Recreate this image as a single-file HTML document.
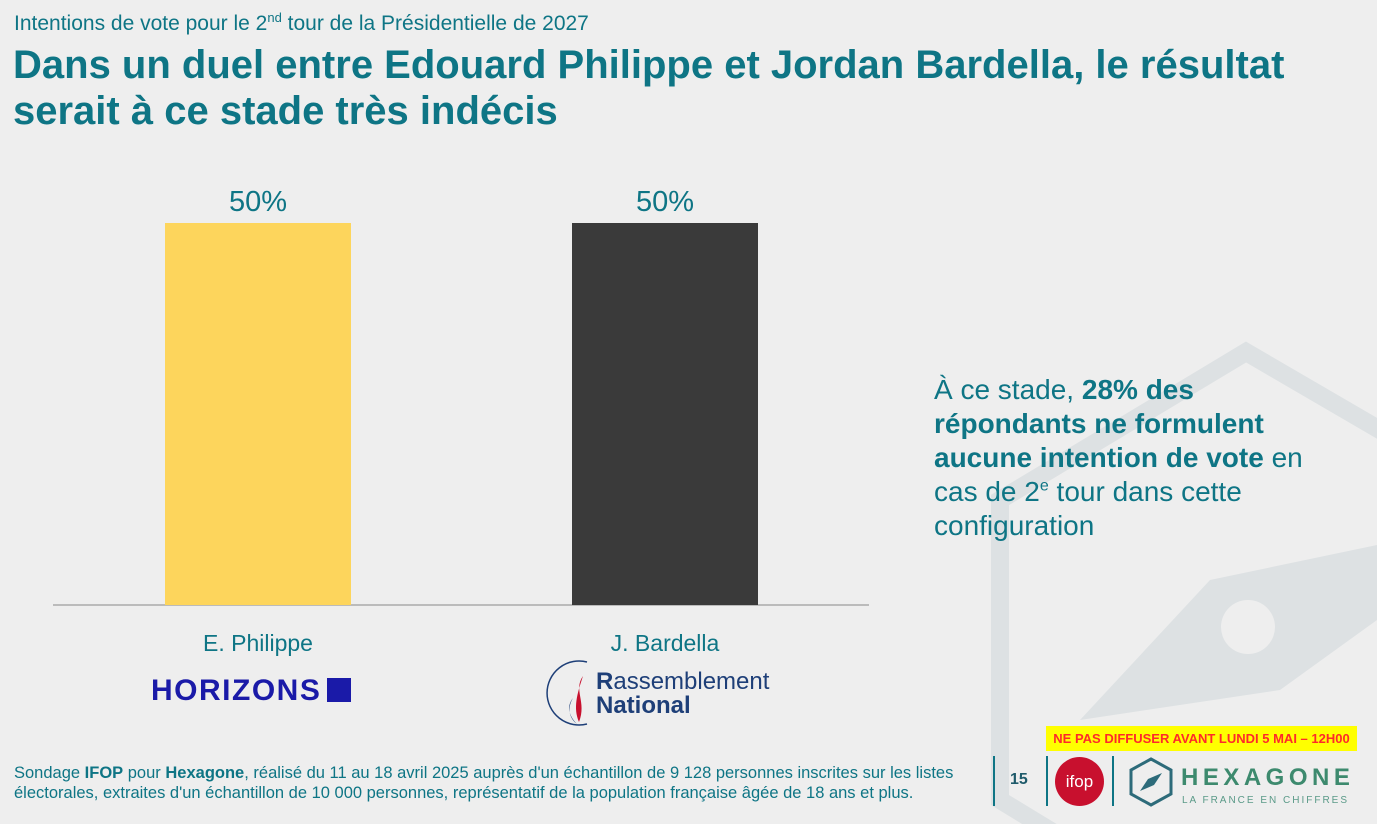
<!DOCTYPE html>
<html lang="fr"><head><meta charset="utf-8">
<style>
html,body{margin:0;width:1377px;height:824px;overflow:hidden}
body{background:#eeeeee;font-family:"Liberation Sans",sans-serif;position:relative;color:#0e7585}
.abs{position:absolute}
sup{line-height:0}
</style></head><body>
<svg class="abs" style="left:0;top:0" width="1377" height="824" viewBox="0 0 1377 824">
<polygon points="1246,352 1500,500 1500,800 1246,950 1000,800 1000,500" fill="none" stroke="#dde1e3" stroke-width="18"/>
<polygon points="1080,720 1210,580 1377,545 1377,620 1280,690 1080,720" fill="#dde1e3"/>
<circle cx="1248" cy="627" r="27" fill="#eeeeee"/>
</svg>
<div class="abs" style="left:14px;top:12px;font-size:21px;">Intentions de vote pour le 2<sup style="font-size:13px">nd</sup> tour de la Présidentielle de 2027</div>
<div class="abs" style="left:13px;top:42px;font-size:40px;font-weight:bold;line-height:46px;width:1300px">Dans un duel entre Edouard Philippe et Jordan Bardella, le résultat serait à ce stade très indécis</div>
<svg id="chart" class="abs" style="left:0;top:0" width="900" height="730"></svg>
<div class="abs" style="left:151px;top:674px;font-size:30px;font-weight:bold;color:#1a1aa8;letter-spacing:1.5px;white-space:nowrap">HORIZONS<span style="display:inline-block;width:24px;height:24px;background:#1a1aa8;margin-left:6px;vertical-align:-2px"></span></div>
<div class="abs" style="left:543px;top:658px;width:260px;height:70px">
<svg width="60" height="70" style="position:absolute;left:0;top:0"><path d="M44,4 A32,32 0 1 0 44,66" fill="none" stroke="#1e3f78" stroke-width="1.5"/><path d="M40,18 C30,32 44,44 36,64 C30,50 34,36 40,18Z" fill="#c8102e"/><path d="M30,40 C22,50 28,60 34,66 C26,60 24,50 30,40Z" fill="#1e3f78"/></svg>
<div style="position:absolute;left:53px;top:12px;font-size:24px;color:#1e3f78;line-height:24px;white-space:nowrap"><b>R</b>assemblement<br><b>National</b></div></div>
<div class="abs" style="left:934px;top:373px;width:420px;font-size:28px;line-height:34px">À ce stade, <b>28% des répondants ne formulent aucune intention de vote</b> en cas de 2<sup style="font-size:16px">e</sup> tour dans cette configuration</div>
<div class="abs" style="left:1046px;top:726px;width:311px;height:25px;background:#ffff00;color:#ff2a2a;font-size:13px;font-weight:bold;text-align:center;line-height:25px">NE PAS DIFFUSER AVANT LUNDI 5 MAI – 12H00</div>
<div class="abs" style="left:14px;top:763px;width:975px;font-size:16.5px;line-height:20px">Sondage <b>IFOP</b> pour <b>Hexagone</b>, réalisé du 11 au 18 avril 2025 auprès d'un échantillon de 9 128 personnes inscrites sur les listes électorales, extraites d'un échantillon de 10 000 personnes, représentatif de la population française âgée de 18 ans et plus.</div>
<div class="abs" style="left:993px;top:756px;width:2px;height:50px;background:#0e7585"></div>
<div class="abs" style="left:1046px;top:756px;width:2px;height:50px;background:#0e7585"></div>
<div class="abs" style="left:1112px;top:756px;width:2px;height:50px;background:#0e7585"></div>
<div class="abs" style="left:1010px;top:771px;font-size:16px;font-weight:bold;color:#1e5a6a">15</div>
<div class="abs" style="left:1055px;top:757px;width:49px;height:49px;border-radius:50%;background:#c8102e;color:#fff;font-size:17px;text-align:center;line-height:49px">ifop</div>
<svg class="abs" style="left:1128px;top:757px" width="46" height="50"><polygon points="23,2 43,13 43,37 23,48 3,37 3,13" fill="none" stroke="#2d6b7a" stroke-width="3"/><polygon points="12,34 20,22 34,16 26,28" fill="#2d6b7a"/></svg>
<div class="abs" style="left:1181px;top:764px;font-size:24px;font-weight:bold;letter-spacing:4.5px;color:#3d8a6e;white-space:nowrap">HEXAGONE</div>
<div class="abs" style="left:1182px;top:795px;font-size:10px;letter-spacing:2px;color:#5a9a88;white-space:nowrap">LA FRANCE EN CHIFFRES</div>
<script>
const categories=["E. Philippe","J. Bardella"];
const values=[50,50];
const colors=["#fdd55c","#3a3a3a"];
const svg=document.getElementById('chart');
const NS='http://www.w3.org/2000/svg';
const base=605, yMax=100;
function y(v){return base-v/yMax*764;}
function x(i){return 165+i*407;}
const bw=186;
const ax=document.createElementNS(NS,'line');
ax.setAttribute('x1',53);ax.setAttribute('x2',869);ax.setAttribute('y1',base);ax.setAttribute('y2',base);ax.setAttribute('stroke','#888');


svg.appendChild(ax);
categories.forEach((c,i)=>{
 const r=document.createElementNS(NS,'rect');
 r.setAttribute('x',x(i));r.setAttribute('y',y(values[i]));r.setAttribute('width',bw);r.setAttribute('height',base-y(values[i]));r.setAttribute('fill',colors[i]);
 
 
 svg.appendChild(r);
 const t=document.createElementNS(NS,'text');
 t.setAttribute('x',x(i)+bw/2);t.setAttribute('y',y(values[i])-12);t.setAttribute('text-anchor','middle');t.setAttribute('font-size','29');t.setAttribute('fill','#0e7585');
 t.textContent=values[i]+'%';
 
 
 svg.appendChild(t);
 const l=document.createElementNS(NS,'text');
 l.setAttribute('x',x(i)+bw/2);l.setAttribute('y',651);l.setAttribute('text-anchor','middle');l.setAttribute('font-size','23');l.setAttribute('fill','#0e7585');
 l.textContent=c;
 
 
 svg.appendChild(l);
});
</script>
</body></html>
